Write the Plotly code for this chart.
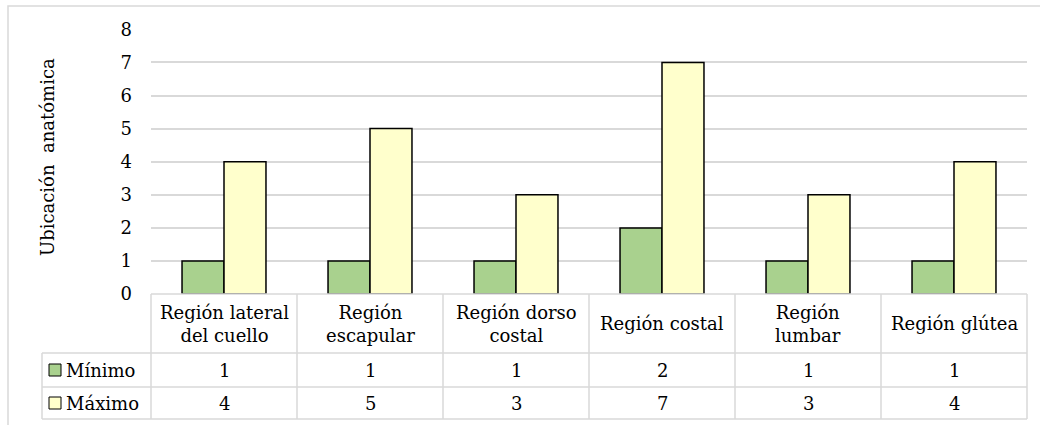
import plotly.graph_objects as go

# Data
categories = ["Región lateral<br>del cuello", "Región<br>escapular", "Región dorso<br>costal",
              "Región costal", "Región<br>lumbar", "Región glútea"]
minimo = [1, 1, 1, 2, 1, 1]
maximo = [4, 5, 3, 7, 3, 4]
series_names = ["Mínimo", "Máximo"]
y_ticks = [0, 1, 2, 3, 4, 5, 6, 7, 8]
y_title = "Ubicación  anatómica"

W, H = 1040, 425
FONT = "DejaVu Serif"
GRID = "#d9d9d9"
GREEN = "#a9d18e"
YELLOW = "#ffffcc"


def px(x):
    return x / W


def py(y):
    return 1 - y / H


# Plot-area / table geometry (pixels)
plot_left, plot_right = 151, 1027
plot_top, plot_bottom = 29.3, 294.1
legend_left = 42
row_cat_bottom = 353
row_min_bottom = 387
row_max_bottom = 419

x_idx = list(range(len(categories)))

fig = go.Figure()
fig.add_trace(go.Bar(x=x_idx, y=minimo, name=series_names[0], marker=dict(color=GREEN, line=dict(color="black", width=1.5))))
fig.add_trace(go.Bar(x=x_idx, y=maximo, name=series_names[1], marker=dict(color=YELLOW, line=dict(color="black", width=1.5))))

shapes = []
# Outer chart frame
shapes.append(dict(type="rect", xref="paper", yref="paper", x0=px(8), x1=px(1060), y0=py(6), y1=py(440),
                   line=dict(color=GRID, width=1.5), fillcolor="rgba(0,0,0,0)", layer="below"))


def hline(y, x0, x1):
    shapes.append(dict(type="line", xref="paper", yref="paper", x0=px(x0), x1=px(x1), y0=py(y), y1=py(y),
                       line=dict(color=GRID, width=1.5)))


def vline(x, y0, y1):
    shapes.append(dict(type="line", xref="paper", yref="paper", x0=px(x), x1=px(x), y0=py(y0), y1=py(y1),
                       line=dict(color=GRID, width=1.5)))


# Data table grid
hline(plot_bottom, plot_left, plot_right)
for yb in (row_cat_bottom, row_min_bottom, row_max_bottom):
    hline(yb, legend_left, plot_right)
vline(legend_left, row_cat_bottom, row_max_bottom)
col_w = (plot_right - plot_left) / len(categories)
for k in range(len(categories) + 1):
    vline(plot_left + k * col_w, plot_bottom, row_max_bottom)

# Legend keys inside the table
row_centers = [(row_cat_bottom + row_min_bottom) / 2, (row_min_bottom + row_max_bottom) / 2]
for yc, col in zip(row_centers, (GREEN, YELLOW)):
    shapes.append(dict(type="rect", xref="paper", yref="paper", x0=px(49), x1=px(61), y0=py(yc - 6), y1=py(yc + 6),
                       fillcolor=col, line=dict(color="black", width=1)))

TXT = dict(family=FONT, size=18, color="#000")
annotations = []
# Category labels
for i, c in enumerate(categories):
    annotations.append(dict(x=i, xref="x", y=py((plot_bottom + row_cat_bottom) / 2), yref="paper", text=c,
                            showarrow=False, font=TXT, xanchor="center", yanchor="middle"))
# Values
for vals, yc in zip((minimo, maximo), row_centers):
    for i, v in enumerate(vals):
        annotations.append(dict(x=i, xref="x", y=py(yc), yref="paper", text=str(v), showarrow=False,
                                font=TXT, xanchor="center", yanchor="middle"))
# Series names
for name, yc in zip(series_names, row_centers):
    annotations.append(dict(x=px(64), xref="paper", y=py(yc), yref="paper", text=name, showarrow=False,
                            font=TXT, xanchor="left", yanchor="middle"))
# Axis title
annotations.append(dict(x=px(47), xref="paper", y=py(157), yref="paper", text=y_title, textangle=-90,
                        showarrow=False, font=TXT, xanchor="center", yanchor="middle"))

fig.update_layout(
    width=W, height=H,
    margin=dict(l=0, r=0, t=0, b=0, autoexpand=False),
    paper_bgcolor="white", plot_bgcolor="white",
    font=dict(family=FONT),
    barmode="group", bargap=0.425, bargroupgap=0,
    showlegend=False,
    xaxis=dict(domain=[px(plot_left), px(plot_right)], range=[-0.5, len(categories) - 0.5], automargin=False,
               showticklabels=False, showgrid=False, zeroline=False, showline=False, fixedrange=True),
    yaxis=dict(domain=[py(plot_bottom), py(plot_top)], range=[0, 8], tickvals=y_ticks, automargin=False,
               showgrid=True, gridcolor=GRID, gridwidth=1.5, zeroline=False, showline=False,
               tickfont=TXT, ticklabelstandoff=18),
    shapes=shapes,
    annotations=annotations,
)

fig.write_html("out.html")
